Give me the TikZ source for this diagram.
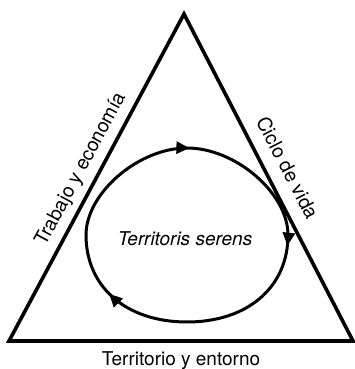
\documentclass[tikz,border=0pt]{standalone}
\usepackage{fontspec}
\setmainfont{TeX Gyre Heros}
\usetikzlibrary{arrows.meta,decorations.markings}

\begin{document}
\begin{tikzpicture}[x=1pt,y=1pt,
  side/.style={line width=3.6pt, line join=miter},
  flow/.style={line width=3pt, postaction={decorate}, decoration={markings,
     mark=at position 0.25 with {\arrow{Triangle[length=13pt,width=12pt]}},
     mark=at position 0.51 with {\arrow{Triangle[length=13pt,width=12pt]}},
     mark=at position 0.89 with {\arrow{Triangle[length=13pt,width=12pt]}}}},
  sidelabel/.style={font=\fontsize{19.5}{22}\selectfont, sloped},
  baselabel/.style={font=\fontsize{19}{22}\selectfont},
  centerlabel/.style={font=\fontsize{19}{22}\selectfont\itshape}]
\useasboundingbox (0,0) rectangle (354,369);
\coordinate (top) at (184,355);
\coordinate (bl) at (9,28);
\coordinate (br) at (353,28);
\draw[side] (bl) -- node[sidelabel, above=3pt] (trabajo) {Trabajo y economía} (top)
  -- node[sidelabel, above=9pt] (ciclo) {Ciclo de vida} (br)
  -- node[baselabel, below=5.5pt] (entorno) {Territorio y entorno} cycle;
% cycle inside
\draw[flow] (86,134) .. controls (86,175.8) and (138.5,221) .. (187,221)
  .. controls (235.5,221) and (288,175.8) .. (288,134)
  .. controls (288,81.8) and (247.6,47) .. (187,47)
  .. controls (126.4,47) and (86,81.8) .. (86,134);
\node[centerlabel] (centro) at (185,130) {Territoris serens};
\end{tikzpicture}
\end{document}
